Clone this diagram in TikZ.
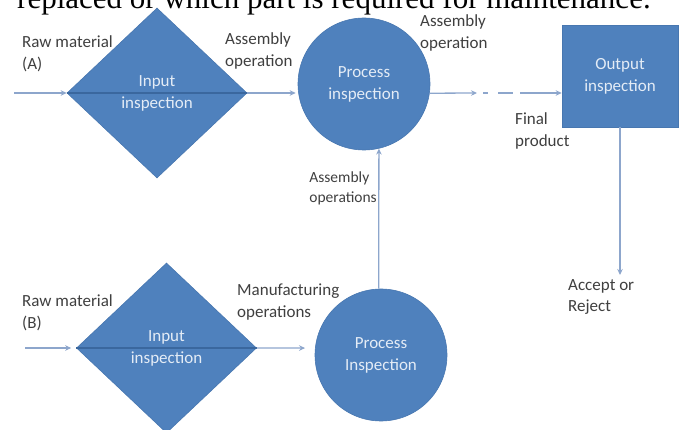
\documentclass[tikz,border=0pt]{standalone}
\usepackage{fontspec}
\setmainfont{Carlito}
\newfontfamily\docserif{Liberation Serif}
\usetikzlibrary{shapes.geometric,arrows.meta}

\definecolor{shapeblue}{HTML}{4F81BD}
\definecolor{shapeedge}{HTML}{4877B0}
\definecolor{flowline}{HTML}{8DA6CC}
\definecolor{crossline}{HTML}{3A679E}
\definecolor{labelgray}{HTML}{3F3F3F}
\definecolor{shapetext}{HTML}{E4ECF6}

\begin{document}
\begin{tikzpicture}[x=1pt,y=-1pt,
  shapetxt/.style={text=shapetext, font=\fontsize{17}{22}\selectfont,
    align=center, inner sep=0pt, fill=shapeblue, draw=shapeedge, line width=0.6pt},
  decision/.style={shapetxt, diamond, minimum width=180pt, minimum height=170pt},
  checkpoint/.style={shapetxt, circle, minimum size=132pt},
  finalbox/.style={shapetxt, rectangle, minimum width=116pt, minimum height=102pt},
  lbl/.style={text=labelgray, font=\fontsize{17}{21.5}\selectfont, align=left, inner sep=0pt},
  flow/.style={draw=flowline, line width=1.3pt, -{Stealth[length=6pt,width=5.5pt]}},
  crossing/.style={draw=crossline, line width=1.3pt}]

\useasboundingbox (0,0) rectangle (683,430);
\clip (0,0) rectangle (683,430);

% running text of the page above the figure
\node[anchor=base west, inner sep=0pt, font=\docserif\fontsize{31}{31}\selectfont]
  (pagetext) at (17,8.5) {replaced or which part is required for maintenance.};

% labels (drawn first, so the shapes lie over their ends)
\node[lbl, anchor=west] (lblRawA) at (22,54) {Raw material\\(A)};
\node[lbl, anchor=west] (lblAsm1) at (225,51) {Assembly\\operation};
\node[lbl, anchor=west] (lblAsm2) at (420,33) {Assembly\\operation};
\node[lbl, anchor=west] (lblFinal) at (515,131) {Final\\product};
\node[lbl, anchor=east, font=\fontsize{15.5}{20}\selectfont] (lblAsm3) at (377,188) {Assembly\\operations};
\node[lbl, anchor=west] (lblRawB) at (22,313) {Raw material\\(B)};
\node[lbl, anchor=west] (lblManuf) at (237,302) {Manufacturing\\operations};
\node[lbl, anchor=west] (lblVerdict) at (568,297) {Accept or\\Reject};

% shapes
\node[decision] (inA) at (157,93) {Input\\inspection};
\node[checkpoint] (procA) at (364,84) {Process\\inspection};
\node[finalbox] (outbox) at (620,76) {Output\\inspection};
\node[decision] (inB) at (166.5,348) {Input\\inspection};
\node[checkpoint] (procB) at (381,355) {Process\\Inspection};

% lines running across the diamonds
\draw[crossing] (inA.west) -- (inA.east);
\draw[crossing] (inB.west) -- (inB.east);

% free ends of connectors
\coordinate (srcA) at (14,93);
\coordinate (srcB) at (25,348);
\coordinate (gapA) at (477,93);
\coordinate (gapB) at (520,93);
\coordinate (verdict) at (620,275);

% connectors
\draw[flow] (srcA) -- (inA.west);
\draw[flow, shorten >=2pt] (inA.east) -- (inA.east -| procA.west);
\draw[flow] (procA.-8) -- (gapA);
\draw[draw=flowline, line width=1.3pt, dash pattern=on 5pt off 10pt on 15pt off 30pt]
  ([xshift=6pt]gapA) -- (gapB);
\draw[flow] (gapB) -- (gapB -| outbox.west);
\draw[flow] (outbox.south) -- (verdict);
\draw[flow, shorten >=5pt] (srcB) -- (inB.west);
\draw[flow, shorten >=10pt] (inB.east) -- (procB.174);
\draw[flow] (procB.92) -- (procA.-77);
\end{tikzpicture}
\end{document}
